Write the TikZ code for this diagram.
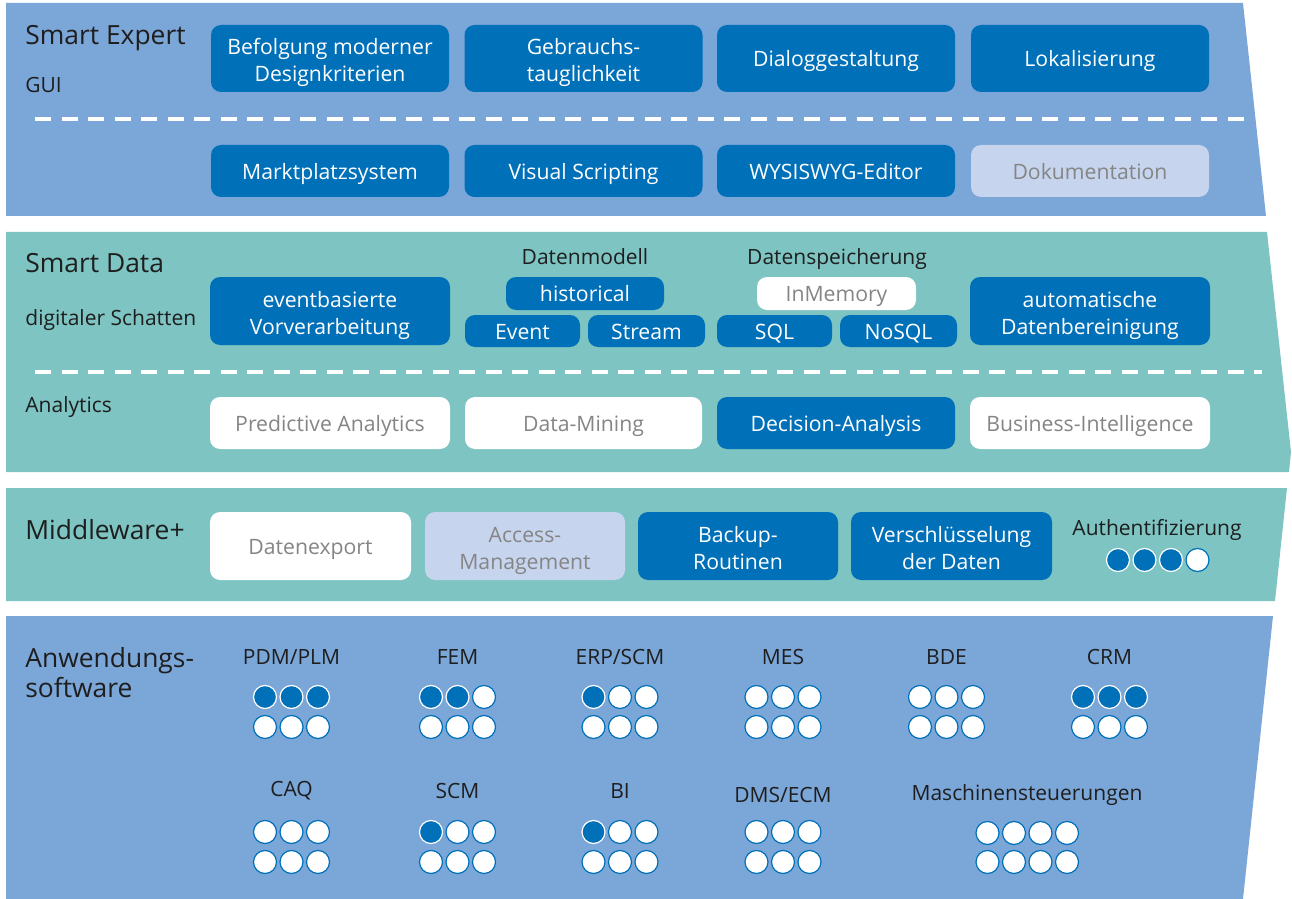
\documentclass[tikz,border=0pt]{standalone}
\usepackage{fontspec}
\setmainfont{Open Sans}

\definecolor{bandblue}{HTML}{7BA6D8}
\definecolor{bandteal}{HTML}{7DC4C2}
\definecolor{boxdark}{HTML}{0070B9}
\definecolor{boxlight}{HTML}{C6D4EE}
\definecolor{greytext}{HTML}{858585}
\definecolor{labeltext}{HTML}{1E1E1E}

\tikzset{
  boxbase/.style={rounded corners=5pt, inner sep=0pt, align=center,
    text height=8.1pt, text depth=0pt,
    font=\fontsize{10.6}{13.35}\selectfont},
  twoline/.style={text height=, text depth=},
  darkbox/.style={boxbase, fill=boxdark, text=white},
  lightbox/.style={boxbase, fill=boxlight, text=greytext},
  whitebox/.style={boxbase, fill=white, text=greytext},
  layer/.style={anchor=base west, inner sep=0pt, align=left, text=labeltext,
    font=\fontsize{13.2}{15}\selectfont},
  sublabel/.style={anchor=base west, inner sep=0pt, text=labeltext,
    font=\fontsize{10.5}{12}\selectfont},
  grouplabel/.style={inner sep=0pt, text=labeltext,
    font=\fontsize{10.5}{12}\selectfont},
  dotfull/.style={circle, minimum size=11.5pt, inner sep=0pt,
    fill=boxdark, draw=white, line width=.6pt},
  dotempty/.style={circle, minimum size=11.5pt, inner sep=0pt,
    fill=white, draw=boxdark, line width=.6pt},
  sepline/.style={white, line width=2pt, dash pattern=on 8pt off 5.25pt}
}

% two lines of box text with a fixed top and bottom
\newcommand{\twolines}[2]{\rule{0pt}{12.8pt}#1\\#2\rule[-3pt]{0pt}{3pt}}

% one row of rating dots: name, x of first dot, y, filled, total
\newcommand{\ratingrow}[5]{%
  \foreach \i in {1,...,#5}{
    \ifnum\i>#4\relax
      \node[dotempty] (#1\i) at ({#2+(\i-1)*26.5},#3) {};
    \else
      \node[dotfull] (#1\i) at ({#2+(\i-1)*26.5},#3) {};
    \fi
  }%
}

\begin{document}
\begin{tikzpicture}[x=0.5pt, y=-0.5pt]
  \useasboundingbox (0,0) rectangle (1292,899);

  %% bands
  \fill[bandblue] (6,3) -- (1243,3) -- (1266,216) -- (6,216) -- cycle;
  \fill[bandteal] (6,232) -- (1267,232) -- (1291,452) -- (1289,472) -- (6,472) -- cycle;
  \fill[bandteal] (6,488) -- (1287,488) -- (1275,601) -- (6,601) -- cycle;
  \fill[bandblue] (6,616) -- (1273,616) -- (1243,899) -- (6,899) -- cycle;

  %% Smart Expert
  \node[layer] (expert) at (25,45) {Smart Expert};
  \node[sublabel] (gui) at (25,93) {GUI};
  \node[darkbox, twoline, minimum width=119pt, minimum height=33.5pt] (design) at (330,58.5) {\twolines{Befolgung moderner}{Designkriterien}};
  \node[darkbox, twoline, minimum width=119pt, minimum height=33.5pt] (usab) at (583.5,58.5) {\twolines{Gebrauchs-}{tauglichkeit}};
  \node[darkbox, minimum width=119pt, minimum height=33.5pt] (dialog) at (836,58.5) {Dialoggestaltung};
  \node[darkbox, minimum width=119pt, minimum height=33.5pt] (local) at (1090,58.5) {Lokalisierung};

  \draw[sepline] (35,119) -- (1245,119);

  \node[darkbox, minimum width=119pt, minimum height=26pt] (market) at (330,171) {Marktplatzsystem};
  \node[darkbox, minimum width=119pt, minimum height=26pt] (script) at (583.5,171) {Visual Scripting};
  \node[darkbox, minimum width=119pt, minimum height=26pt] (wysiwyg) at (836,171) {WYSISWYG-Editor};
  \node[lightbox, minimum width=119pt, minimum height=26pt] (docu) at (1090,171) {Dokumentation};

  %% Smart Data
  \node[layer] (data) at (25,272) {Smart Data};
  \node[sublabel] (shadow) at (25,325) {digitaler Schatten};
  \node[darkbox, twoline, minimum width=120pt, minimum height=34pt] (event) at (330,311) {\twolines{eventbasierte}{Vorverarbeitung}};

  \node[grouplabel, anchor=base] (model) at (585,264) {Datenmodell};
  \node[darkbox, minimum width=79pt, minimum height=16.5pt] (hist) at (585,293.5) {historical};
  \node[darkbox, minimum width=57.5pt, minimum height=16pt] (evt) at (522.5,331) {Event};
  \node[darkbox, minimum width=58.5pt, minimum height=16pt] (stream) at (646.5,331) {Stream};

  \node[grouplabel, anchor=base] (store) at (837,264) {Datenspeicherung};
  \node[whitebox, minimum width=79.5pt, minimum height=16.5pt] (inmem) at (836.5,293.5) {InMemory};
  \node[darkbox, minimum width=57.5pt, minimum height=16pt] (sql) at (774.5,331) {SQL};
  \node[darkbox, minimum width=58.5pt, minimum height=16pt] (nosql) at (898.5,331) {NoSQL};

  \node[darkbox, twoline, minimum width=120pt, minimum height=34pt] (clean) at (1090,311) {\twolines{automatische}{Datenbereinigung}};

  \draw[sepline] (35,372) -- (1262,372);

  \node[sublabel] (analytics) at (25,412) {Analytics};
  \node[whitebox, minimum width=120pt, minimum height=26pt] (predict) at (330,423) {Predictive Analytics};
  \node[whitebox, minimum width=118.5pt, minimum height=26pt] (mining) at (583.5,423) {Data-Mining};
  \node[darkbox, minimum width=119pt, minimum height=26pt] (decision) at (836,423) {Decision-Analysis};
  \node[whitebox, minimum width=120pt, minimum height=26pt] (bi) at (1090,423) {Business-Intelligence};

  %% Middleware+
  \node[layer] (middle) at (25,539) {Middleware+};
  \node[whitebox, minimum width=100.5pt, minimum height=34pt] (export) at (310.5,546) {Datenexport};
  \node[lightbox, twoline, minimum width=100pt, minimum height=34pt] (access) at (525,546) {\twolines{Access-}{Management}};
  \node[darkbox, twoline, minimum width=100pt, minimum height=34pt] (backup) at (738,546) {\twolines{Backup-}{Routinen}};
  \node[darkbox, twoline, minimum width=100.5pt, minimum height=34pt] (crypt) at (951.5,546) {\twolines{Verschlüsselung}{der Daten}};
  \node[grouplabel, anchor=base] (auth) at (1157,535) {Authentifizierung};
  \ratingrow{auth}{1118}{560}{3}{4}

  %% Anwendungssoftware
  \node[layer] (apps) at (25,697) {Anwendungs-\\software};

  \node[grouplabel] (pdm) at (291.5,657) {PDM/PLM};
  \ratingrow{pdmA}{265}{697}{3}{3}
  \ratingrow{pdmB}{265}{727}{0}{3}
  \node[grouplabel] (fem) at (457.5,657) {FEM};
  \ratingrow{femA}{431}{697}{2}{3}
  \ratingrow{femB}{431}{727}{0}{3}
  \node[grouplabel] (erp) at (620,657) {ERP/SCM};
  \ratingrow{erpA}{593.5}{697}{1}{3}
  \ratingrow{erpB}{593.5}{727}{0}{3}
  \node[grouplabel] (mes) at (783,657) {MES};
  \ratingrow{mesA}{756.5}{697}{0}{3}
  \ratingrow{mesB}{756.5}{727}{0}{3}
  \node[grouplabel] (bde) at (946.5,657) {BDE};
  \ratingrow{bdeA}{920}{697}{0}{3}
  \ratingrow{bdeB}{920}{727}{0}{3}
  \node[grouplabel] (crm) at (1109.5,657) {CRM};
  \ratingrow{crmA}{1083}{697}{3}{3}
  \ratingrow{crmB}{1083}{727}{0}{3}

  \node[grouplabel] (caq) at (291.5,791) {CAQ};
  \ratingrow{caqA}{265}{832}{0}{3}
  \ratingrow{caqB}{265}{862}{0}{3}
  \node[grouplabel] (scm) at (457.5,791) {SCM};
  \ratingrow{scmA}{431}{832}{1}{3}
  \ratingrow{scmB}{431}{862}{0}{3}
  \node[grouplabel] (bisw) at (620,791) {BI};
  \ratingrow{biA}{593.5}{832}{1}{3}
  \ratingrow{biB}{593.5}{862}{0}{3}
  \node[grouplabel] (dms) at (783,795) {DMS/ECM};
  \ratingrow{dmsA}{756.5}{832}{0}{3}
  \ratingrow{dmsB}{756.5}{862}{0}{3}
  \node[grouplabel] (machine) at (1027,795) {Maschinensteuerungen};
  \ratingrow{machA}{987.5}{833}{0}{4}
  \ratingrow{machB}{987.5}{862}{0}{4}
\end{tikzpicture}
\end{document}
